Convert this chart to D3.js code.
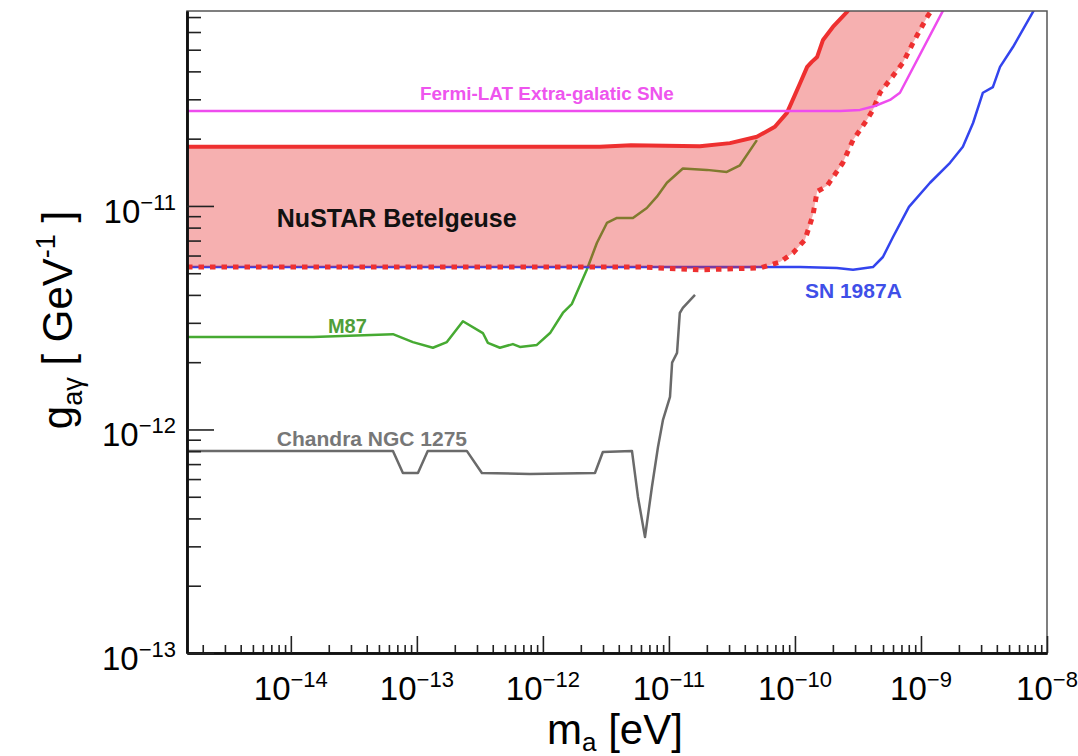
<!DOCTYPE html>
<html>
<head>
<meta charset="utf-8">
<script src="https://cdn.jsdelivr.net/npm/d3@7"></script>
<style>
body { margin: 0; background: #fff; }
svg text { font-family: "Liberation Sans", Arial, Helvetica, sans-serif; }
</style>
</head>
<body>
<script>
let width = 1078, height = 756;

// axis ranges (eV, GeV^-1)
let massRange = [1.5e-15, 1e-8];
let couplingRange = [1e-13, 7.45e-11];
let xTickExp = [-14, -13, -12, -11, -10, -9, -8];
let yTickExp = [-13, -12, -11];

// curves as [m_a, g_agamma]
let fermiLAT = [[1.5e-15, 2.66e-11], [2.28e-10, 2.66e-11], [3.28e-10, 2.69e-11], [4.31e-10, 2.80e-11],
  [5.68e-10, 2.98e-11], [6.81e-10, 3.21e-11], [1.50e-9, 7.5e-11]];

let nustarUpper = [[1.5e-15, 1.84e-11], [2.83e-12, 1.84e-11], [5.0e-12, 1.87e-11], [1.76e-11, 1.85e-11],
  [3.05e-11, 1.91e-11], [4.99e-11, 2.04e-11], [6.93e-11, 2.26e-11], [8.64e-11, 2.61e-11],
  [1.0e-10, 3.14e-11], [1.10e-10, 3.55e-11], [1.25e-10, 4.19e-11], [1.36e-10, 4.41e-11],
  [1.50e-10, 4.64e-11], [1.67e-10, 5.53e-11], [2.00e-10, 6.32e-11], [2.59e-10, 7.38e-11], [2.73e-10, 7.69e-11]];

let nustarLower = [[1.5e-15, 5.33e-12], [5.89e-12, 5.33e-12], [1.76e-11, 5.18e-12], [5.27e-11, 5.28e-12],
  [7.60e-11, 5.61e-12], [9.64e-11, 6.16e-12], [1.20e-10, 7.05e-12], [1.39e-10, 9.11e-12],
  [1.50e-10, 1.16e-11], [1.80e-10, 1.23e-11], [2.40e-10, 1.56e-11], [2.89e-10, 1.97e-11],
  [3.73e-10, 2.43e-11], [4.16e-10, 2.69e-11], [4.73e-10, 3.21e-11], [5.68e-10, 3.67e-11],
  [7.19e-10, 4.37e-11], [8.64e-10, 5.36e-11], [1.12e-9, 7.01e-11], [1.22e-9, 7.54e-11]];

let sn1987a = [[1.5e-15, 5.33e-12], [1.10e-10, 5.33e-12], [2.15e-10, 5.28e-12], [2.89e-10, 5.18e-12],
  [4.16e-10, 5.33e-12], [4.99e-10, 5.91e-12], [6.0e-10, 7.26e-12], [8.03e-10, 9.90e-12],
  [1.18e-9, 1.27e-11], [1.70e-9, 1.56e-11], [2.15e-9, 1.84e-11], [2.59e-9, 2.35e-11],
  [3.10e-9, 3.21e-11], [3.72e-9, 3.40e-11], [4.24e-9, 4.19e-11], [5.37e-9, 5.14e-11],
  [7.74e-9, 7.38e-11], [8.2e-9, 7.8e-11]];

let m87 = [[1.5e-15, 2.59e-12], [1.50e-14, 2.59e-12], [6.46e-14, 2.67e-12], [9.30e-14, 2.46e-12],
  [1.34e-13, 2.32e-12], [1.73e-13, 2.46e-12], [2.32e-13, 3.05e-12], [3.34e-13, 2.70e-12],
  [3.66e-13, 2.44e-12], [4.56e-13, 2.32e-12], [5.78e-13, 2.41e-12], [6.57e-13, 2.34e-12],
  [8.96e-13, 2.39e-12], [1.14e-12, 2.70e-12], [1.44e-12, 3.32e-12], [1.70e-12, 3.65e-12],
  [2.23e-12, 5.18e-12], [2.68e-12, 6.83e-12], [3.22e-12, 8.39e-12], [3.87e-12, 8.84e-12],
  [5.18e-12, 8.84e-12], [6.68e-12, 9.79e-12], [8.03e-12, 1.10e-11], [9.64e-12, 1.27e-11],
  [1.29e-11, 1.47e-11], [2.00e-11, 1.45e-11], [2.88e-11, 1.42e-11], [3.66e-11, 1.52e-11], [4.99e-11, 1.97e-11]];

let chandra = [[1.5e-15, 8.02e-13], [6.46e-14, 8.02e-13], [7.75e-14, 6.39e-13], [1.02e-13, 6.39e-13],
  [1.22e-13, 8.02e-13], [2.49e-13, 8.02e-13], [3.28e-13, 6.39e-13], [7.89e-13, 6.32e-13],
  [2.59e-12, 6.39e-13], [2.99e-12, 7.93e-13], [5.09e-12, 8.02e-13], [5.68e-12, 4.99e-13],
  [6.46e-12, 3.30e-13], [7.33e-12, 5.53e-13], [8.19e-12, 8.35e-13], [8.96e-12, 1.10e-12],
  [1.02e-11, 1.40e-12], [1.06e-11, 1.99e-12], [1.16e-11, 2.20e-12], [1.22e-11, 3.32e-12],
  [1.29e-11, 3.50e-12], [1.61e-11, 4.00e-12]];

// label anchors in data coordinates
let labels = [
  {text: "Fermi-LAT Extra-galatic SNe", m: 1.06e-13, g: 2.98e-11, color: "#ee55ee", size: 18.9},
  {text: "NuSTAR Betelgeuse", m: 7.74e-15, g: 8.05e-12, color: "#111", size: 25},
  {text: "M87", m: 1.97e-14, g: 2.70e-12, color: "#4f9e3a", size: 20},
  {text: "Chandra NGC 1275", m: 7.74e-15, g: 8.43e-13, color: "#777", size: 21},
  {text: "SN 1987A", m: 1.20e-10, g: 3.87e-12, color: "#3f4fe8", size: 21}
];

let svg = d3.select("body").append("svg")
    .attr("width", width)
    .attr("height", height);

let x = d3.scaleLog().domain(massRange).range([187, 1047]);
let y = d3.scaleLog().domain(couplingRange).range([653, 11]);

svg.append("clipPath").attr("id", "plot")
  .append("rect")
    .attr("x", x.range()[0]).attr("y", y.range()[1])
    .attr("width", x.range()[1] - x.range()[0])
    .attr("height", y.range()[0] - y.range()[1]);

let line = d3.line().x(d => x(d[0])).y(d => y(d[1]));

let plot = svg.append("g").attr("clip-path", "url(#plot)");

function curve(data, color, w) {
  return plot.append("path").datum(data)
    .attr("d", line)
    .attr("fill", "none")
    .attr("stroke", color)
    .attr("stroke-width", w)
    .attr("stroke-linejoin", "round");
}

curve(m87, "#46aa32", 2.5);
curve(chandra, "#6a6a6a", 2.5);
curve(sn1987a, "#3344ee", 2.5);

// shaded NuSTAR band
plot.append("path")
  .datum(nustarUpper.concat(nustarLower.slice().reverse()))
  .attr("d", d => line(d) + "Z")
  .attr("fill", "#e62828")
  .attr("fill-opacity", 0.37);

curve(nustarUpper, "#ee3030", 4);
curve(nustarLower, "#ee3030", 5).attr("stroke-dasharray", "5.5,6");
curve(fermiLAT, "#ee4cee", 2.5);

// frame
svg.append("rect")
    .attr("x", 187).attr("y", 11).attr("width", 860).attr("height", 642)
    .attr("fill", "none").attr("stroke", "#555").attr("stroke-width", 1.5);

function minorTicks(range, e0, e1) {
  let out = [];
  for (let e = e0; e <= e1; e++)
    for (let k = 2; k <= 9; k++) {
      let v = k * Math.pow(10, e);
      if (v >= range[0] && v <= range[1]) out.push(v);
    }
  return out;
}

let xMinor = minorTicks(massRange, -15, -9);
let yMinor = minorTicks(couplingRange, -13, -11);
let xMajor = xTickExp.map(e => Math.pow(10, e));
let yMajor = yTickExp.map(e => Math.pow(10, e));

let xAxisG = svg.append("g").attr("transform", "translate(0,653)");
xAxisG.append("g").call(d3.axisBottom(x).tickValues(xMinor).tickSize(-8).tickSizeOuter(0).tickFormat(""));
xAxisG.append("g").call(d3.axisBottom(x).tickValues(xMajor).tickSize(-17).tickSizeOuter(0).tickFormat(""));

let yAxisG = svg.append("g").attr("transform", "translate(187,0)");
yAxisG.append("g").call(d3.axisLeft(y).tickValues(yMinor).tickSize(-14).tickSizeOuter(0).tickFormat(""));
yAxisG.append("g").call(d3.axisLeft(y).tickValues(yMajor).tickSize(-27).tickSizeOuter(0).tickFormat(""));

svg.selectAll(".domain").attr("stroke", "#111").attr("stroke-width", 2.5);
svg.selectAll(".tick line").attr("stroke", "#222").attr("stroke-width", 1.6);

// tick labels
svg.append("g").selectAll("text")
  .data(xTickExp)
  .join("text")
    .attr("x", d => x(Math.pow(10, d)))
    .attr("y", 700)
    .attr("text-anchor", "middle")
    .attr("font-size", 33)
    .each(function(d) {
      let t = d3.select(this);
      t.append("tspan").text("10");
      t.append("tspan").attr("dy", -13).attr("font-size", 22).text("\u2212" + (-d));
    });

svg.append("g").selectAll("text")
  .data(yTickExp)
  .join("text")
    .attr("x", 176)
    .attr("y", d => y(Math.pow(10, d)) + 17)
    .attr("text-anchor", "end")
    .attr("font-size", 33)
    .each(function(d) {
      let t = d3.select(this);
      t.append("tspan").text("10");
      t.append("tspan").attr("dy", -13).attr("font-size", 22).text("\u2212" + (-d));
    });

// axis titles
let xt = svg.append("text")
    .attr("x", 615).attr("y", 744)
    .attr("text-anchor", "middle")
    .attr("font-size", 42);
xt.append("tspan").text("m");
xt.append("tspan").attr("dy", 7).attr("font-size", 26).text("a");
xt.append("tspan").attr("dy", -7).text(" [eV]");

let yt = svg.append("text")
    .attr("transform", "translate(72,320) rotate(-90)")
    .attr("text-anchor", "middle")
    .attr("font-size", 42);
yt.append("tspan").text("g");
yt.append("tspan").attr("dy", 10).attr("font-size", 27).text("a\u03b3");
yt.append("tspan").attr("dy", -10).text(" [ GeV");
yt.append("tspan").attr("dy", -17).attr("font-size", 27).text("-1");
yt.append("tspan").attr("dy", 17).text(" ]");

// curve labels
svg.append("g").selectAll("text")
  .data(labels)
  .join("text")
    .attr("x", d => x(d.m))
    .attr("y", d => y(d.g))
    .attr("fill", d => d.color)
    .attr("font-size", d => d.size)
    .attr("font-weight", "bold")
    .text(d => d.text);
</script>
</body>
</html>
